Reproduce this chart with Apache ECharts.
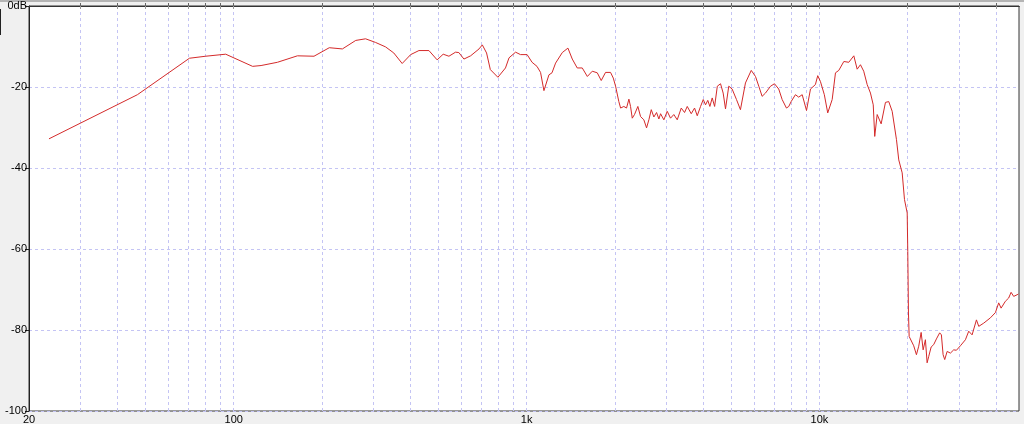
<!DOCTYPE html>
<html><head><meta charset="utf-8">
<script src="https://cdn.jsdelivr.net/npm/echarts@6/dist/echarts.min.js"></script>
<style>html,body{margin:0;padding:0;background:#f0f0f0}#c{width:1024px;height:424px}</style>
</head><body><div id="c"></div><script>
const freqHz = [23.4,46.9,70.6,80.2,93.9,116,124,141,165,188,212,235,261,282,305,330,352,376,402,429,464,495,519,543,572,587,611,644,688,706,730,752,798,847,871,917,953,1004,1044,1085,1116,1146,1192,1221,1256,1324,1384,1432,1489,1549,1612,1676,1743,1798,1860,1935,1977,2013,2065,2094,2148,2194,2235,2264,2295,2336,2398,2450,2514,2568,2615,2665,2720,2778,2829,2867,2942,3021,3100,3182,3268,3373,3462,3536,3649,3745,3825,3926,4010,4083,4156,4225,4303,4385,4479,4594,4690,4777,4901,5032,5208,5372,5588,5848,6047,6206,6370,6541,6806,7021,7259,7458,7713,7856,8002,8277,8494,8730,9031,9318,9684,9863,10070,10390,10670,11050,11340,11640,12110,12590,13100,13450,13800,14160,14550,14930,15260,15440,15740,16240,16800,17240,17710,18320,18650,19160,19510,19930,20020,20130,20240,20560,20980,21430,21820,22240,22590,23000,23310,23610,24060,24550,25080,25730,26080,26430,26770,27280,28000,28730,29350,30280,31500,32330,33200,34350,34980,36380,38330,39870,40920,41700,43130,44260,45110,46040,47290,47780];
const levelDb = [-32.8,-21.9,-12.9,-12.4,-11.9,-14.9,-14.7,-13.9,-12.3,-12.4,-10.3,-10.6,-8.5,-8.1,-9.0,-10.1,-11.6,-14.2,-12.0,-11.0,-11.0,-13.3,-11.9,-12.4,-11.4,-11.5,-13.1,-12.3,-10.6,-9.6,-11.6,-15.7,-17.6,-15.3,-12.8,-11.4,-12.0,-12.0,-13.9,-14.9,-16.4,-20.9,-17.0,-16.5,-14.1,-11.5,-10.4,-13.1,-15.3,-15.3,-17.4,-16.1,-16.5,-18.4,-16.4,-16.4,-17.8,-19.8,-23.6,-25.2,-24.8,-25.2,-23.0,-24.8,-27.7,-26.8,-24.8,-27.3,-28.1,-30.1,-28.1,-25.6,-27.4,-26.3,-27.9,-26.6,-28.1,-26.0,-27.7,-26.8,-28.1,-25.2,-26.3,-24.8,-26.6,-25.2,-27.1,-24.8,-23.1,-24.4,-23.3,-24.8,-22.7,-24.8,-19.8,-19.2,-21.5,-25.4,-19.8,-20.5,-23.1,-25.6,-19.0,-15.9,-17.4,-19.8,-22.3,-21.5,-19.8,-19.2,-20.5,-23.1,-25.2,-24.8,-23.6,-21.9,-22.5,-21.9,-25.8,-20.5,-19.4,-17.2,-18.6,-21.9,-26.4,-23.1,-16.5,-15.9,-13.7,-13.9,-12.3,-15.6,-14.5,-16.1,-19.4,-21.5,-24.4,-32.2,-26.8,-29.1,-23.8,-23.6,-26.0,-33.0,-38.0,-41.2,-47.8,-51.1,-60.6,-75.8,-81.6,-82.0,-83.9,-86.1,-84.0,-80.6,-84.9,-82.4,-88.1,-86.5,-84.2,-83.6,-82.2,-80.7,-81.2,-86.1,-87.3,-85.3,-85.7,-84.9,-85.0,-83.9,-82.4,-80.3,-81.2,-77.5,-79.1,-78.3,-77.0,-75.7,-73.3,-74.6,-72.9,-72.1,-70.7,-71.7,-71.3,-71.1];
const xGridHz = [30,40,50,60,70,80,90,100,200,300,400,500,600,700,800,900,1000,2000,3000,4000,5000,6000,7000,8000,9000,10000,20000,30000,40000];
const xLabelHz = [20,100,1000,10000];
const xLabelText = ['20','100','1k','10k'];
const yLabelText = {'0':'0dB','-20':'-20','-40':'-40','-60':'-60','-80':'-80','-100':'-100'};

const chart = echarts.init(document.getElementById('c'), null, {renderer:'canvas'});
const font = "'Liberation Sans Narrow','Liberation Sans',sans-serif";
const gridColor = '#c4c4f4';
chart.setOption({
  animation:false,
  backgroundColor:'#f0f0f0',
  grid:{left:29, right:5, top:6, bottom:13, containLabel:false, outerBoundsMode:'none',
        show:true, backgroundColor:'#ffffff', borderColor:'#333', borderWidth:1},
  xAxis:[{
    type:'log', logBase:10, min:20, max:48000, position:'bottom',
    axisLine:{show:true, lineStyle:{color:'#222', width:1}},
    axisTick:{show:true, inside:true, length:3, customValues:xGridHz, lineStyle:{color:'#666'}},
    axisLabel:{show:true, customValues:xLabelHz, margin:3, fontSize:11, fontFamily:font, color:'#000',
      formatter:function(v){const i=xLabelHz.findIndex(h=>Math.abs(h-v)/h<1e-6);return i>=0?xLabelText[i]:'';}},
    splitLine:{show:true, lineStyle:{type:[3,3], color:gridColor, width:1}},
    minorTick:{show:false}, minorSplitLine:{show:false}
  },{
    type:'log', logBase:10, min:20, max:48000, position:'top',
    axisLine:{show:true, lineStyle:{color:'#333'}},
    axisTick:{show:true, inside:true, length:3, customValues:xGridHz, lineStyle:{color:'#999'}},
    axisLabel:{show:false}, splitLine:{show:false}
  }],
  yAxis:{
    type:'value', min:-100, max:0, interval:20,
    axisLine:{show:true, lineStyle:{color:'#222'}},
    axisTick:{show:true, inside:false, length:4, lineStyle:{color:'#222'}},
    axisLabel:{margin:2, fontSize:11, fontFamily:font, color:'#000',
      formatter:function(v){return yLabelText[String(v)]!==undefined?yLabelText[String(v)]:String(v);}},
    splitLine:{show:true, lineStyle:{type:[3,3], color:gridColor, width:1}}
  },
  series:[{
    type:'line', xAxisIndex:0, data:freqHz.map((f,i)=>[f,levelDb[i]]),
    showSymbol:false, symbol:'none', smooth:false,
    lineStyle:{color:'#d42a2a', width:1}
  }],
  graphic:[
    {type:'rect', shape:{x:0,y:0,width:1024,height:2}, style:{fill:'#b4b4b4'}, silent:true},
    {type:'rect', shape:{x:0,y:9,width:1,height:26}, style:{fill:'#222'}, silent:true}
  ]
});
</script></body></html>
